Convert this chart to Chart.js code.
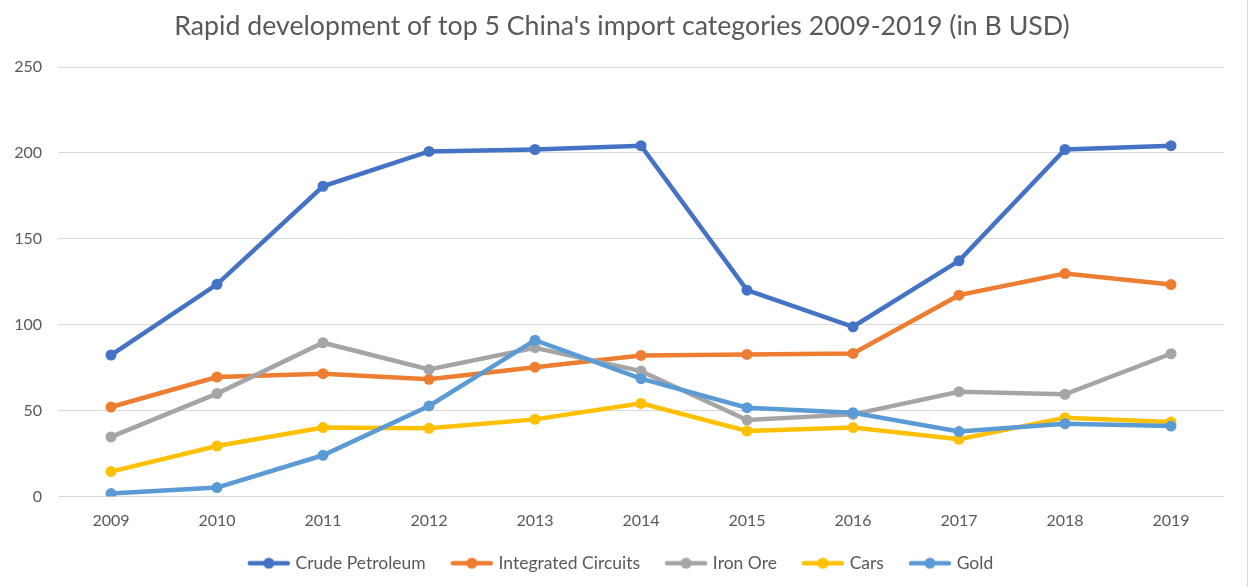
<!DOCTYPE html>
<html>
<head>
<meta charset="utf-8">
<script src="https://cdn.jsdelivr.net/npm/chart.js@4.4.1/dist/chart.umd.min.js"></script>
<style>
  html, body { margin: 0; padding: 0; background: #ffffff; }
  #wrap { position: relative; width: 1251px; height: 587px; }
  #frame { position: absolute; left: 1247px; top: 0; width: 1px; height: 587px; background: #d9d9d9; }
</style>
</head>
<body>
<div id="wrap">
  <canvas id="c" width="1251" height="587"></canvas>
  <div id="frame"></div>
</div>
<script>
const titleText = "Rapid development of top 5 China's import categories 2009-2019 (in B USD)";
const years = ["2009","2010","2011","2012","2013","2014","2015","2016","2017","2018","2019"];
const seriesNames = ["Crude Petroleum", "Integrated Circuits", "Iron Ore", "Cars", "Gold"];
const crudePetroleum = [82.3, 123.5, 180.6, 200.9, 202.0, 204.2, 120.1, 98.8, 137.2, 202.0, 204.2];
const integratedCircuits = [52.1, 69.5, 71.5, 68.2, 75.3, 82.1, 82.7, 83.3, 117.2, 129.8, 123.4];
const ironOre = [34.7, 59.9, 89.5, 74.0, 86.6, 73.0, 44.5, 47.8, 61.0, 59.5, 83.1];
const cars = [14.5, 29.4, 40.1, 39.7, 44.9, 54.2, 38.1, 40.1, 33.3, 45.9, 43.4];
const gold = [1.7, 5.2, 24.0, 52.7, 91.0, 68.6, 51.7, 48.8, 37.8, 42.4, 41.0];
const yTicks = [0, 50, 100, 150, 200, 250];
const colors = ["#4472C4", "#ED7D31", "#A5A5A5", "#FFC000", "#5B9BD5"];

const seriesValues = [crudePetroleum, integratedCircuits, ironOre, cars, gold];
const FONT = "Lato, 'Open Sans', sans-serif";
const TEXT = "#595959";

function legendIcon(color) {
  const cv = document.createElement('canvas');
  cv.width = 44; cv.height = 12;
  const g = cv.getContext('2d');
  g.strokeStyle = color; g.lineWidth = 4.5; g.lineCap = 'round';
  g.beginPath(); g.moveTo(3, 6); g.lineTo(41, 6); g.stroke();
  g.fillStyle = color;
  g.beginPath(); g.arc(22, 6, 5.5, 0, Math.PI * 2); g.fill();
  return cv;
}
const icons = colors.map(legendIcon);

const datasets = seriesNames.map((name, i) => ({
  label: name,
  data: seriesValues[i],
  borderColor: colors[i],
  backgroundColor: colors[i],
  borderWidth: 4.5,
  pointRadius: 5.5,
  pointHoverRadius: 5.5,
  pointBorderWidth: 0,
  pointBackgroundColor: colors[i],
  tension: 0,
  fill: false,
  order: seriesNames.length - i,
  yAxisID: 'y'
}));

new Chart(document.getElementById('c'), {
  type: 'line',
  data: { labels: years, datasets: datasets },
  options: {
    responsive: false,
    animation: false,
    devicePixelRatio: 1,
    layout: { padding: { left: 0, right: 7, top: 0, bottom: 5 } },
    plugins: {
      tooltip: { enabled: false },
      title: {
        display: true,
        text: titleText,
        color: TEXT,
        font: { family: FONT, size: 26.7, weight: 'normal' },
        padding: { top: 10, bottom: 25 }
      },
      legend: {
        position: 'bottom',
        labels: {
          color: TEXT,
          font: { family: FONT, size: 17.5 },
          usePointStyle: true,
          pointStyleWidth: 36,
          padding: 28,
          sort: (a, b) => a.datasetIndex - b.datasetIndex,
          generateLabels: (chart) => {
            const items = Chart.defaults.plugins.legend.labels.generateLabels(chart);
            items.forEach(it => { it.pointStyle = icons[it.datasetIndex]; });
            return items;
          }
        }
      }
    },
    scales: {
      x: {
        offset: true,
        grid: { display: false, drawTicks: false },
        border: { display: false },
        ticks: { color: TEXT, font: { family: FONT, size: 16 }, padding: 15, maxRotation: 0 },
        afterFit: (s) => { s.height = 30; }
      },
      y: {
        min: 0,
        max: 250,
        afterBuildTicks: (s) => { s.ticks = yTicks.map(v => ({ value: v })); },
        grid: { color: "#d9d9d9", lineWidth: 1, drawTicks: false },
        border: { display: false },
        ticks: { color: TEXT, font: { family: FONT, size: 16 }, padding: 16 },
        afterFit: (s) => { s.width = 58; }
      },
      yRight: {
        position: 'right',
        min: 0,
        max: 250,
        grid: { display: false, drawTicks: false },
        border: { display: false },
        ticks: { display: false },
        afterFit: (s) => { s.width = 20; }
      }
    }
  }
});
</script>
</body>
</html>
